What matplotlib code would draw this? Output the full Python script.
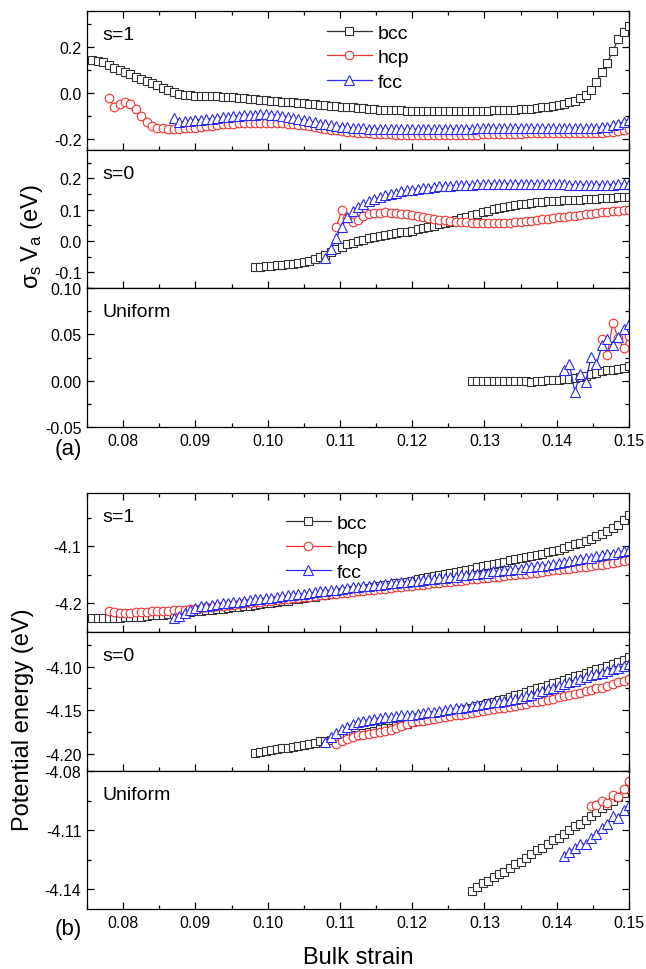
import numpy as np
import matplotlib
matplotlib.use("Agg")
import matplotlib.pyplot as plt
from matplotlib.ticker import MultipleLocator, FormatStrFormatter
from matplotlib.lines import Line2D

plt.rcParams['font.family'] = ['Liberation Sans', 'DejaVu Sans']
plt.rcParams['axes.unicode_minus'] = False
plt.rcParams['axes.linewidth'] = 0.9

# strain grid spacing of the calculation
STEP = 0.00075

# ---- (a) sigma_s * V_a (eV) ----
a_s1_bcc_start = 0.07575
a_s1_bcc = [0.141, 0.138, 0.131, 0.121, 0.109, 0.099, 0.089, 0.079, 0.069, 0.059,
            0.050, 0.041, 0.031, 0.021, 0.011, 0.002, -0.006, -0.010, -0.012, -0.013,
            -0.014, -0.015, -0.016, -0.017, -0.018, -0.019, -0.021, -0.023, -0.025, -0.027,
            -0.029, -0.031, -0.033, -0.035, -0.037, -0.039, -0.041, -0.043, -0.045, -0.047,
            -0.049, -0.051, -0.053, -0.055, -0.057, -0.059, -0.061, -0.063, -0.065, -0.067,
            -0.069, -0.071, -0.072, -0.074, -0.075, -0.076, -0.077, -0.078, -0.079, -0.080,
            -0.080, -0.081, -0.081, -0.082, -0.082, -0.082, -0.082, -0.082, -0.082, -0.081,
            -0.081, -0.080, -0.080, -0.079, -0.078, -0.077, -0.076, -0.075, -0.074, -0.073,
            -0.072, -0.070, -0.068, -0.065, -0.062, -0.058, -0.053, -0.048, -0.043, -0.036,
            -0.024, -0.010, 0.010, 0.045, 0.090, 0.130, 0.180, 0.232, 0.262, 0.290]
a_s1_hcp_start = 0.078
a_s1_hcp = [-0.022, -0.062, -0.048, -0.040, -0.050, -0.072, -0.100,
            -0.128, -0.145, -0.153, -0.156, -0.157, -0.157, -0.157, -0.156, -0.155, -0.153,
            -0.150, -0.147, -0.144, -0.141, -0.139, -0.137, -0.135, -0.134, -0.133, -0.132,
            -0.131, -0.131, -0.131, -0.131, -0.132, -0.133, -0.135, -0.137, -0.140, -0.143,
            -0.146, -0.150, -0.154, -0.158, -0.161, -0.164, -0.167, -0.170, -0.172, -0.174,
            -0.176, -0.178, -0.179, -0.180, -0.181, -0.182, -0.183, -0.183, -0.184, -0.184,
            -0.184, -0.185, -0.185, -0.185, -0.185, -0.185, -0.185, -0.184, -0.184, -0.184,
            -0.183, -0.183, -0.182, -0.182, -0.181, -0.181, -0.180, -0.180, -0.179, -0.179,
            -0.178, -0.178, -0.177, -0.177, -0.177, -0.176, -0.176, -0.176, -0.176, -0.176,
            -0.176, -0.176, -0.175, -0.175, -0.174, -0.173, -0.171, -0.168, -0.165, -0.160]
a_s1_fcc_start = 0.087
a_s1_fcc = [-0.112, -0.130, -0.125, -0.122, -0.120,
            -0.118, -0.116, -0.113, -0.111, -0.108, -0.106, -0.103, -0.101, -0.099, -0.097,
            -0.096, -0.095, -0.095, -0.096, -0.098, -0.101, -0.105, -0.110, -0.115, -0.120,
            -0.125, -0.130, -0.135, -0.139, -0.143, -0.146, -0.149, -0.151, -0.153, -0.155,
            -0.156, -0.157, -0.158, -0.159, -0.159, -0.160, -0.160, -0.160, -0.160, -0.160,
            -0.160, -0.160, -0.159, -0.159, -0.159, -0.158, -0.158, -0.158, -0.157, -0.157,
            -0.157, -0.156, -0.156, -0.156, -0.155, -0.155, -0.155, -0.155, -0.154, -0.154,
            -0.154, -0.154, -0.154, -0.154, -0.154, -0.155, -0.155, -0.155, -0.155, -0.155,
            -0.155, -0.155, -0.154, -0.153, -0.151, -0.148, -0.143, -0.136, -0.128, -0.118]

a_s0_bcc_start = 0.09825
a_s0_bcc = [-0.083, -0.082, -0.081, -0.079, -0.078, -0.076, -0.075, -0.073, -0.071, -0.068,
            -0.064, -0.059, -0.052, -0.044, -0.035, -0.026, -0.018, -0.011, -0.005, 0.000,
            0.004, 0.008, 0.012, 0.015, 0.018, 0.021, 0.024, 0.027, 0.030, 0.033,
            0.037, 0.041, 0.045, 0.049, 0.053, 0.058, 0.062, 0.067, 0.072, 0.077,
            0.082, 0.087, 0.092, 0.097, 0.101, 0.105, 0.108, 0.111, 0.114, 0.117,
            0.119, 0.121, 0.123, 0.125, 0.126, 0.127, 0.128, 0.129, 0.130, 0.131,
            0.132, 0.133, 0.134, 0.135, 0.136, 0.137, 0.138, 0.139, 0.140, 0.141]
a_s0_hcp_start = 0.1095
a_s0_hcp = [0.045, 0.098, 0.072, 0.060, 0.068,
            0.078, 0.085, 0.088, 0.090, 0.091, 0.090, 0.089, 0.087, 0.085, 0.082,
            0.079, 0.076, 0.073, 0.070, 0.068, 0.066, 0.064, 0.062, 0.060, 0.059,
            0.058, 0.057, 0.056, 0.056, 0.056, 0.056, 0.057, 0.058, 0.059, 0.061,
            0.063, 0.065, 0.067, 0.069, 0.071, 0.073, 0.075, 0.077, 0.079, 0.081,
            0.083, 0.085, 0.087, 0.089, 0.091, 0.093, 0.095, 0.097, 0.099, 0.100]
a_s0_fcc_start = 0.108
a_s0_fcc = [-0.055, -0.025, 0.010, 0.045, 0.075, 0.095, 0.108,
            0.118, 0.126, 0.133, 0.139, 0.145, 0.150, 0.154, 0.158, 0.161, 0.164,
            0.166, 0.168, 0.170, 0.172, 0.174, 0.175, 0.176, 0.177, 0.178, 0.179,
            0.180, 0.181, 0.182, 0.182, 0.183, 0.183, 0.183, 0.183, 0.183, 0.183,
            0.183, 0.183, 0.182, 0.182, 0.182, 0.181, 0.181, 0.181, 0.180, 0.180,
            0.180, 0.180, 0.180, 0.180, 0.180, 0.180, 0.180, 0.181, 0.181, 0.182]

a_un_bcc_start = 0.12825
a_un_bcc = [0.000, 0.000, 0.000, 0.000, 0.000, 0.000, 0.000, 0.000, 0.000, 0.000,
            0.000, -0.001, 0.000, 0.000, 0.001, 0.001, 0.001, 0.002, 0.002, 0.003,
            0.004, 0.005, 0.007, 0.008, 0.010, 0.011, 0.012, 0.013, 0.014, 0.016]
a_un_hcp_start = 0.14625
a_un_hcp = [0.045, 0.028, 0.062, 0.046, 0.035, 0.048]
a_un_fcc_start = 0.141
a_un_fcc = [0.011, 0.018, -0.012, 0.0075, -0.001, 0.0255, 0.018, 0.038, 0.045, 0.038,
            0.047, 0.056, 0.061]

# ---- (b) potential energy (eV) ----
b_s1_bcc_start = 0.07575
b_s1_bcc = [-4.226, -4.226, -4.226, -4.225, -4.225, -4.225, -4.224, -4.224, -4.223, -4.223,
            -4.222, -4.221, -4.220, -4.220, -4.219, -4.218, -4.217, -4.216, -4.215, -4.214,
            -4.213, -4.212, -4.211, -4.210, -4.209, -4.208, -4.207, -4.206, -4.205, -4.204,
            -4.203, -4.201, -4.200, -4.199, -4.197, -4.196, -4.195, -4.193, -4.192, -4.191,
            -4.189, -4.188, -4.186, -4.185, -4.183, -4.182, -4.180, -4.179, -4.177, -4.176,
            -4.174, -4.173, -4.171, -4.170, -4.168, -4.167, -4.165, -4.164, -4.162, -4.160,
            -4.158, -4.156, -4.154, -4.152, -4.151, -4.149, -4.147, -4.145, -4.143, -4.141,
            -4.139, -4.137, -4.135, -4.133, -4.131, -4.129, -4.127, -4.125, -4.123, -4.121,
            -4.119, -4.117, -4.115, -4.113, -4.111, -4.108, -4.106, -4.103, -4.100, -4.097,
            -4.094, -4.091, -4.087, -4.083, -4.079, -4.074, -4.069, -4.063, -4.055, -4.046]
b_s1_hcp_start = 0.078
b_s1_hcp = [-4.214, -4.215, -4.216, -4.216, -4.216, -4.215, -4.215,
            -4.215, -4.214, -4.214, -4.213, -4.213, -4.212, -4.211, -4.211, -4.210, -4.209,
            -4.208, -4.207, -4.206, -4.205, -4.204, -4.203, -4.202, -4.201, -4.200, -4.199,
            -4.198, -4.197, -4.196, -4.195, -4.194, -4.193, -4.192, -4.191, -4.190, -4.189,
            -4.188, -4.187, -4.186, -4.185, -4.184, -4.183, -4.182, -4.181, -4.180, -4.179,
            -4.178, -4.177, -4.176, -4.175, -4.174, -4.173, -4.172, -4.171, -4.170, -4.169,
            -4.168, -4.167, -4.166, -4.165, -4.164, -4.163, -4.162, -4.161, -4.160, -4.159,
            -4.158, -4.157, -4.156, -4.155, -4.154, -4.153, -4.152, -4.151, -4.150, -4.149,
            -4.148, -4.147, -4.146, -4.145, -4.143, -4.142, -4.141, -4.140, -4.139, -4.138,
            -4.137, -4.136, -4.135, -4.133, -4.132, -4.131, -4.129, -4.128, -4.126, -4.124]
b_s1_fcc_start = 0.087
b_s1_fcc = [-4.226, -4.222, -4.217, -4.212, -4.208,
            -4.205, -4.204, -4.202, -4.201, -4.200, -4.199, -4.198, -4.197, -4.195, -4.194,
            -4.193, -4.192, -4.191, -4.190, -4.188, -4.187, -4.186, -4.185, -4.184, -4.183,
            -4.182, -4.180, -4.179, -4.178, -4.177, -4.176, -4.175, -4.173, -4.172, -4.171,
            -4.170, -4.169, -4.168, -4.167, -4.166, -4.165, -4.164, -4.163, -4.162, -4.161,
            -4.160, -4.159, -4.158, -4.157, -4.156, -4.155, -4.154, -4.153, -4.151, -4.150,
            -4.149, -4.148, -4.147, -4.146, -4.144, -4.143, -4.142, -4.141, -4.140, -4.139,
            -4.137, -4.136, -4.135, -4.134, -4.132, -4.131, -4.129, -4.128, -4.126, -4.125,
            -4.123, -4.121, -4.120, -4.118, -4.116, -4.114, -4.113, -4.111, -4.109, -4.107]

b_s0_bcc_start = 0.09825
b_s0_bcc = [-4.199, -4.198, -4.197, -4.196, -4.195, -4.194, -4.193, -4.192, -4.191, -4.190,
            -4.189, -4.188, -4.186, -4.185, -4.184, -4.183, -4.181, -4.180, -4.179, -4.178,
            -4.176, -4.175, -4.174, -4.172, -4.171, -4.170, -4.168, -4.167, -4.166, -4.164,
            -4.163, -4.161, -4.160, -4.158, -4.157, -4.155, -4.154, -4.152, -4.150, -4.149,
            -4.147, -4.145, -4.144, -4.142, -4.140, -4.138, -4.137, -4.135, -4.133, -4.131,
            -4.129, -4.127, -4.125, -4.123, -4.121, -4.119, -4.117, -4.115, -4.113, -4.111,
            -4.109, -4.107, -4.105, -4.103, -4.101, -4.099, -4.097, -4.094, -4.092, -4.089]
b_s0_hcp_start = 0.1095
b_s0_hcp = [-4.189, -4.186, -4.183, -4.181, -4.179,
            -4.178, -4.177, -4.176, -4.175, -4.174, -4.173, -4.171, -4.168, -4.166, -4.164,
            -4.163, -4.162, -4.161, -4.160, -4.159, -4.158, -4.157, -4.156, -4.155, -4.154,
            -4.153, -4.152, -4.151, -4.150, -4.149, -4.148, -4.147, -4.146, -4.145, -4.144,
            -4.143, -4.141, -4.140, -4.139, -4.138, -4.137, -4.135, -4.134, -4.133, -4.131,
            -4.130, -4.128, -4.127, -4.125, -4.124, -4.122, -4.120, -4.118, -4.116, -4.114]
b_s0_fcc_start = 0.108
b_s0_fcc = [-4.187, -4.181, -4.176, -4.172, -4.169, -4.166, -4.164,
            -4.162, -4.161, -4.160, -4.159, -4.158, -4.158, -4.157, -4.156, -4.156, -4.155,
            -4.154, -4.153, -4.152, -4.152, -4.151, -4.150, -4.149, -4.148, -4.147, -4.146,
            -4.145, -4.144, -4.143, -4.142, -4.141, -4.140, -4.139, -4.138, -4.137, -4.136,
            -4.134, -4.132, -4.130, -4.128, -4.126, -4.124, -4.122, -4.120, -4.118, -4.116,
            -4.114, -4.112, -4.110, -4.108, -4.107, -4.105, -4.103, -4.101, -4.099, -4.097]

b_un_bcc_start = 0.12825
b_un_bcc = [-4.141, -4.139, -4.137, -4.136, -4.134, -4.132, -4.131, -4.129, -4.127, -4.126,
            -4.124, -4.122, -4.120, -4.119, -4.117, -4.115, -4.114, -4.112, -4.110, -4.108,
            -4.107, -4.105, -4.103, -4.101, -4.099, -4.097, -4.095, -4.093, -4.091, -4.089]
b_un_hcp_start = 0.14475
b_un_hcp = [-4.098, -4.097, -4.095, -4.096, -4.092, -4.093, -4.089, -4.085]
b_un_fcc_start = 0.141
b_un_fcc = [-4.123, -4.121, -4.119, -4.117, -4.117, -4.114, -4.112, -4.109, -4.107, -4.103,
            -4.104, -4.100, -4.097]

phases = ['bcc', 'hcp', 'fcc']
strain_ticks = [0.08, 0.09, 0.10, 0.11, 0.12, 0.13, 0.14, 0.15]

STYLE = {
    'bcc': dict(color='#333333', marker='s', ms=5.6),
    'hcp': dict(color='#f03232', marker='o', ms=6.2),
    'fcc': dict(color='#2a2af0', marker='^', ms=6.6),
}


def draw(ax, phase, start, vals):
    x = start + STEP * np.arange(len(vals))
    st = STYLE[phase]
    ax.plot(x, vals, color=st['color'], lw=0.9, marker=st['marker'], ms=st['ms'],
            mfc='white', mec=st['color'], mew=0.8)


def setup(ax, ylim, yticks, minor, fmt, label, show_x, top):
    ax.set_xlim(0.075, 0.15)
    ax.set_ylim(*ylim)
    ax.set_xticks(strain_ticks)
    ax.xaxis.set_minor_locator(MultipleLocator(0.005))
    ax.xaxis.set_major_formatter(FormatStrFormatter('%.2f'))
    ax.set_yticks(yticks)
    ax.yaxis.set_minor_locator(MultipleLocator(minor))
    ax.yaxis.set_major_formatter(FormatStrFormatter(fmt))
    ax.tick_params(which='both', direction='in', right=True, top=top,
                   labelsize=11.5, width=0.9, pad=4)
    ax.tick_params(which='major', length=5)
    ax.tick_params(which='minor', length=3)
    if not show_x:
        ax.tick_params(labelbottom=False)
    ax.text(0.028, 0.83, label, transform=ax.transAxes, fontsize=14, va='center')


fig = plt.figure(figsize=(6.46, 9.70), dpi=100)
L, W = 87 / 646, 542 / 646


def rect(top_px, bot_px):
    return [L, 1 - bot_px / 970, W, (bot_px - top_px) / 970]


# (a)
ax1 = fig.add_axes(rect(12, 151))
ax2 = fig.add_axes(rect(151, 289))
ax3 = fig.add_axes(rect(289, 428))
setup(ax1, (-0.25, 0.355), [-0.2, 0.0, 0.2], 0.1, '%.1f', 's=1', False, True)
setup(ax2, (-0.15, 0.29), [-0.1, 0.0, 0.1, 0.2], 0.05, '%.1f', 's=0', False, False)
setup(ax3, (-0.05, 0.10), [-0.05, 0.0, 0.05, 0.10], 0.025, '%.2f', 'Uniform', True, False)

draw(ax1, 'bcc', a_s1_bcc_start, a_s1_bcc)
draw(ax1, 'hcp', a_s1_hcp_start, a_s1_hcp)
draw(ax1, 'fcc', a_s1_fcc_start, a_s1_fcc)
draw(ax2, 'bcc', a_s0_bcc_start, a_s0_bcc)
draw(ax2, 'hcp', a_s0_hcp_start, a_s0_hcp)
draw(ax2, 'fcc', a_s0_fcc_start, a_s0_fcc)
draw(ax3, 'bcc', a_un_bcc_start, a_un_bcc)
draw(ax3, 'hcp', a_un_hcp_start, a_un_hcp)
draw(ax3, 'fcc', a_un_fcc_start, a_un_fcc)

# (b)
ax4 = fig.add_axes(rect(494, 633))
ax5 = fig.add_axes(rect(633, 772))
ax6 = fig.add_axes(rect(772, 910))
setup(ax4, (-4.25, -4.007), [-4.2, -4.1], 0.05, '%.1f', 's=1', False, True)
setup(ax5, (-4.22, -4.06), [-4.20, -4.15, -4.10], 0.025, '%.2f', 's=0', False, False)
setup(ax6, (-4.15, -4.08), [-4.14, -4.11, -4.08], 0.015, '%.2f', 'Uniform', True, False)

draw(ax4, 'bcc', b_s1_bcc_start, b_s1_bcc)
draw(ax4, 'hcp', b_s1_hcp_start, b_s1_hcp)
draw(ax4, 'fcc', b_s1_fcc_start, b_s1_fcc)
draw(ax5, 'bcc', b_s0_bcc_start, b_s0_bcc)
draw(ax5, 'hcp', b_s0_hcp_start, b_s0_hcp)
draw(ax5, 'fcc', b_s0_fcc_start, b_s0_fcc)
draw(ax6, 'bcc', b_un_bcc_start, b_un_bcc)
draw(ax6, 'hcp', b_un_hcp_start, b_un_hcp)
draw(ax6, 'fcc', b_un_fcc_start, b_un_fcc)

# legends
handles = [Line2D([], [], color=STYLE[p]['color'], lw=0.9, marker=STYLE[p]['marker'],
                  ms=STYLE[p]['ms'], mfc='white', mec=STYLE[p]['color'], mew=0.8)
           for p in phases]
for ax, anchor in [(ax1, (0.443, 0.905)), (ax4, (0.367, 0.845))]:
    ax.legend(handles, phases, loc='upper left', bbox_to_anchor=anchor, frameon=False,
              fontsize=14, handlelength=2.3, handletextpad=0.3, labelspacing=0.35,
              borderpad=0, borderaxespad=0)

fig.text(32 / 646, 1 - 236 / 970, r'$\mathregular{\sigma_s\,V_a}$ (eV)', rotation=90,
         ha='center', va='center', fontsize=17)
fig.text(23 / 646, 1 - 720 / 970, 'Potential energy (eV)', rotation=90,
         ha='center', va='center', fontsize=17)
fig.text(358 / 646, 1 - 958 / 970, 'Bulk strain', ha='center', va='center', fontsize=17)
fig.text(68 / 646, 1 - 450 / 970, '(a)', ha='center', va='center', fontsize=16)
fig.text(68 / 646, 1 - 930 / 970, '(b)', ha='center', va='center', fontsize=16)

fig.savefig('out.png', dpi=100)
